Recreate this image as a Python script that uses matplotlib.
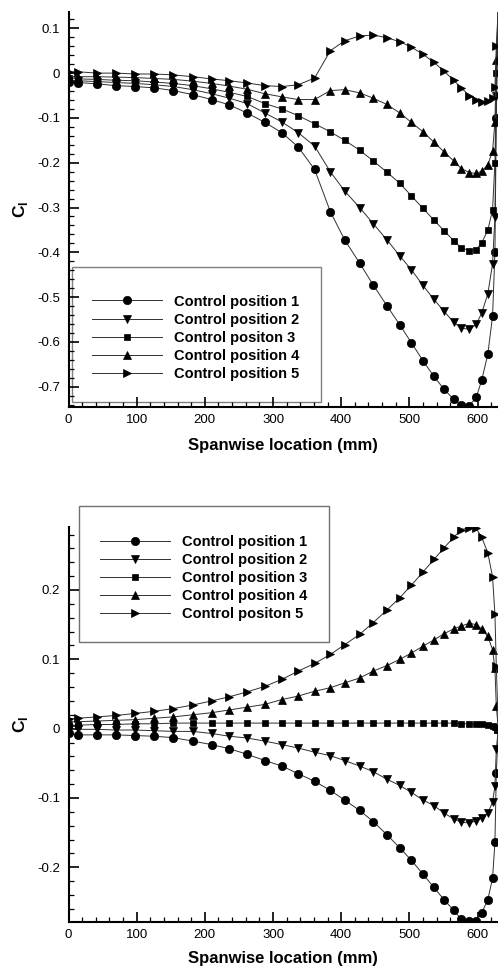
import matplotlib
matplotlib.use("Agg")
import matplotlib.pyplot as plt
from matplotlib.patches import Rectangle
from matplotlib.ticker import MultipleLocator, FuncFormatter
from matplotlib.font_manager import FontProperties

plt.rcParams['font.family'] = ['Liberation Sans', 'DejaVu Sans']
plt.rcParams['axes.unicode_minus'] = False
plt.rcParams['mathtext.fontset'] = 'custom'
plt.rcParams['mathtext.rm'] = 'Liberation Sans'
plt.rcParams['mathtext.bf'] = 'Liberation Sans:bold'

# Spanwise stations (mm)
x_span = [0, 14, 42, 70, 98, 126, 154, 182, 210, 236, 262, 288, 313, 337, 361, 384, 405,
          427, 447, 467, 486, 503, 520, 536, 551, 565, 576, 588, 598, 606, 615, 622,
          625.5, 627.5, 630.5]

# Top panel
top_labels = ["Control position 1", "Control position 2", "Control positon 3",
              "Control position 4", "Control position 5"]
top_p1 = [-0.019, -0.021, -0.024, -0.028, -0.030, -0.033, -0.039, -0.048, -0.059, -0.071,
          -0.089, -0.110, -0.133, -0.165, -0.215, -0.309, -0.372, -0.424, -0.473, -0.519,
          -0.562, -0.602, -0.642, -0.677, -0.706, -0.728, -0.741, -0.742, -0.724, -0.686,
          -0.628, -0.543, -0.40, -0.10, 0.15]
top_p2 = [-0.016, -0.017, -0.019, -0.021, -0.023, -0.026, -0.030, -0.037, -0.046, -0.056,
          -0.068, -0.089, -0.109, -0.133, -0.163, -0.220, -0.263, -0.300, -0.336, -0.372,
          -0.408, -0.439, -0.474, -0.505, -0.532, -0.556, -0.569, -0.572, -0.561, -0.536,
          -0.493, -0.426, -0.322, -0.05, 0.15]
top_p3 = [-0.012, -0.013, -0.014, -0.016, -0.017, -0.020, -0.023, -0.028, -0.035, -0.043,
          -0.052, -0.068, -0.080, -0.095, -0.113, -0.131, -0.150, -0.172, -0.196, -0.221,
          -0.246, -0.274, -0.302, -0.328, -0.352, -0.374, -0.390, -0.396, -0.394, -0.379,
          -0.351, -0.305, -0.20, 0.00, 0.15]
top_p4 = [-0.008, -0.008, -0.008, -0.009, -0.010, -0.012, -0.014, -0.018, -0.023, -0.029,
          -0.036, -0.046, -0.053, -0.059, -0.059, -0.039, -0.037, -0.044, -0.056, -0.070,
          -0.089, -0.110, -0.131, -0.154, -0.176, -0.196, -0.213, -0.222, -0.224, -0.219,
          -0.205, -0.174, -0.11, 0.03, 0.15]
top_p5 = [0.003, 0.003, 0.000, 0.000, -0.002, -0.002, -0.004, -0.008, -0.013, -0.017,
          -0.022, -0.028, -0.030, -0.026, -0.011, 0.050, 0.072, 0.083, 0.085, 0.079,
          0.070, 0.058, 0.042, 0.024, 0.004, -0.016, -0.033, -0.050, -0.059, -0.064,
          -0.063, -0.056, -0.03, 0.06, 0.15]

# Bottom panel
bot_labels = ["Control position 1", "Control position 2", "Control position 3",
              "Control position 4", "Control positon 5"]
bot_p1 = [-0.006, -0.009, -0.009, -0.009, -0.010, -0.011, -0.013, -0.018, -0.023, -0.029,
          -0.037, -0.046, -0.054, -0.065, -0.076, -0.089, -0.103, -0.118, -0.134, -0.153,
          -0.172, -0.190, -0.210, -0.229, -0.247, -0.262, -0.275, -0.278, -0.278, -0.266,
          -0.247, -0.216, -0.164, -0.064, 0.0]
bot_p2 = [0.000, -0.001, -0.001, -0.002, -0.002, -0.003, -0.004, -0.004, -0.007, -0.011,
          -0.0135, -0.018, -0.023, -0.028, -0.034, -0.039, -0.046, -0.054, -0.062, -0.073,
          -0.082, -0.092, -0.103, -0.111, -0.122, -0.130, -0.135, -0.136, -0.133, -0.129,
          -0.122, -0.106, -0.083, -0.030, 0.0]
bot_p3 = [0.005, 0.005, 0.006, 0.006, 0.007, 0.007, 0.008, 0.008, 0.008, 0.008,
          0.008, 0.008, 0.008, 0.008, 0.008, 0.008, 0.008, 0.008, 0.008, 0.008,
          0.008, 0.008, 0.008, 0.008, 0.008, 0.008, 0.007, 0.007, 0.006, 0.006,
          0.005, 0.004, 0.003, 0.002, 0.0]
bot_p4 = [0.010, 0.010, 0.011, 0.012, 0.013, 0.015, 0.017, 0.020, 0.023, 0.027,
          0.031, 0.035, 0.042, 0.047, 0.054, 0.059, 0.066, 0.073, 0.083, 0.091,
          0.100, 0.109, 0.119, 0.128, 0.137, 0.144, 0.148, 0.152, 0.150, 0.144,
          0.133, 0.114, 0.087, 0.032, 0.0]
bot_p5 = [0.014, 0.015, 0.017, 0.019, 0.022, 0.025, 0.029, 0.034, 0.040, 0.046,
          0.053, 0.061, 0.071, 0.083, 0.094, 0.107, 0.121, 0.136, 0.153, 0.171,
          0.189, 0.207, 0.226, 0.244, 0.261, 0.276, 0.287, 0.290, 0.289, 0.276,
          0.254, 0.219, 0.165, 0.090, 0.0]

markers = ['o', 'v', 's', '^', '>']
msizes = [6.0, 6.3, 5.0, 6.3, 6.3]

W, H = 498, 972
fig = plt.figure(figsize=(W / 100, H / 100), dpi=100)


def px_axes(left, top, right, bottom):
    return fig.add_axes([left / W, 1 - bottom / H, (right - left) / W, (bottom - top) / H])


def fmt(v, pos):
    if abs(v) < 1e-9:
        return "0"
    return f"{v:g}"


def style_axes(ax, ylim, ymajor):
    ax.set_xlim(0, 630)
    ax.set_ylim(*ylim)
    ax.spines['top'].set_visible(False)
    ax.spines['right'].set_visible(False)
    for s in ('left', 'bottom'):
        ax.spines[s].set_linewidth(1.5)
    ax.xaxis.set_major_locator(MultipleLocator(100))
    ax.xaxis.set_minor_locator(MultipleLocator(20))
    ax.yaxis.set_major_locator(MultipleLocator(ymajor))
    ax.yaxis.set_minor_locator(MultipleLocator(0.02))
    ax.yaxis.set_major_formatter(FuncFormatter(fmt))
    ax.tick_params(which='both', direction='in', top=False, right=False, width=1.2)
    ax.tick_params(which='major', length=7, labelsize=9.5)
    ax.tick_params(which='minor', length=3.5, width=0.9)
    ax.tick_params(axis='y', which='major', pad=6)
    ax.tick_params(axis='x', which='major', pad=5)
    ax.set_xlabel("Spanwise location (mm)", fontsize=12, fontweight='bold', va='center')
    ax.set_ylabel(r"$\mathbf{C}_\mathbf{l}$", fontsize=12.5, va='center')
    ax.patch.set_alpha(0)


def draw_series(ax, series):
    lines = []
    for ys, m, ms in zip(series, markers, msizes):
        ln, = ax.plot(x_span, ys, color='#303030', lw=0.7, marker=m, ms=ms,
                      mfc='black', mec='black', mew=0.5)
        lines.append(ln)
    return lines


legend_font = FontProperties(family='Liberation Sans', weight='bold', size=10.5)

# ---------- Top panel ----------
ax1 = px_axes(68.5, 12, 498, 406.7)
style_axes(ax1, (-0.7446, 0.1364), 0.1)
l1 = draw_series(ax1, [top_p1, top_p2, top_p3, top_p4, top_p5])
ax1.xaxis.set_label_coords(0.5, -(445 - 406.7) / (406.7 - 12))
ax1.yaxis.set_label_coords((21 - 68.5) / (498 - 68.5), 0.5)
ax1.legend(l1, top_labels, loc='upper left', bbox_to_anchor=(92 / W, 1 - 294.6 / H),
           bbox_transform=fig.transFigure, frameon=False, borderpad=0, borderaxespad=0,
           handlelength=4.8, handletextpad=0.8, labelspacing=0.28, prop=legend_font,
           numpoints=1)
ax1.add_patch(Rectangle((72 / W, 1 - 401.7 / H), 249 / W, 135 / H, transform=fig.transFigure,
                        fill=False, edgecolor='#808080', lw=1.0, clip_on=False))

# ---------- Bottom panel ----------
ax2 = px_axes(68.5, 526.7, 498, 921.7)
style_axes(ax2, (-0.2785, 0.2913), 0.1)
l2 = draw_series(ax2, [bot_p1, bot_p2, bot_p3, bot_p4, bot_p5])
ax2.xaxis.set_label_coords(0.5, -(958 - 921.7) / (921.7 - 526.7))
ax2.yaxis.set_label_coords((21 - 68.5) / (498 - 68.5), 0.5)
ax2.legend(l2, bot_labels, loc='upper left', bbox_to_anchor=(100 / W, 1 - 534.9 / H),
           bbox_transform=fig.transFigure, frameon=False, borderpad=0, borderaxespad=0,
           handlelength=4.8, handletextpad=0.8, labelspacing=0.28, prop=legend_font,
           numpoints=1)
ax2.add_patch(Rectangle((79 / W, 1 - 642 / H), 250 / W, 136 / H, transform=fig.transFigure,
                        fill=False, edgecolor='#707070', lw=1.0, clip_on=False))

fig.savefig("out.png", dpi=100, facecolor='white')
